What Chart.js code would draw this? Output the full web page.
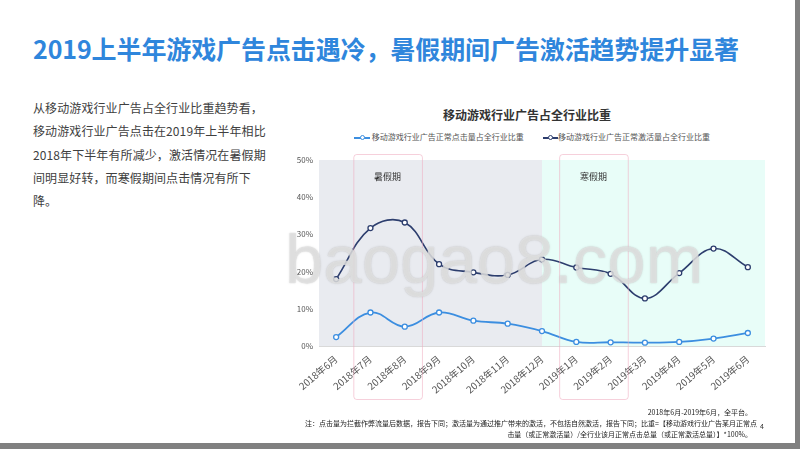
<!DOCTYPE html>
<html><head><meta charset="utf-8">
<script src="https://cdn.jsdelivr.net/npm/chart.js@4/dist/chart.umd.min.js"></script>
<style>
html,body{margin:0;padding:0;background:#fff;}
body{width:800px;height:449px;position:relative;overflow:hidden;font-family:"Noto Sans CJK SC","Noto Sans",sans-serif;}
.abs{position:absolute;}
#title{left:33px;top:31px;font-size:25px;font-weight:bold;color:#2f86dc;white-space:nowrap;line-height:34px;letter-spacing:-0.1px;}
#desc{left:33px;top:96px;font-size:12px;color:#404040;line-height:23.3px;white-space:nowrap;letter-spacing:0.1px;}
#ctitle{left:380px;width:294px;top:106px;text-align:center;font-size:12px;font-weight:bold;color:#333;line-height:18px;}
.leg{top:131px;font-size:8px;color:#555;line-height:12px;white-space:nowrap;}
.mk{display:inline-block;position:relative;vertical-align:middle;height:8px;}
.mk i{position:absolute;left:0;right:0;top:3.5px;height:1.5px;}
.mk b{position:absolute;left:50%;top:1.5px;margin-left:-2.5px;width:3px;height:3px;border-radius:50%;background:#fff;border:1.2px solid;}
#wm{left:285px;top:220px;font-family:"Liberation Sans",Arial,sans-serif;font-size:69px;color:rgba(232,232,232,0.72);text-shadow:0 0 1.5px rgba(150,150,150,0.55);white-space:nowrap;line-height:80px;pointer-events:none;}
.fn{font-size:7px;color:#222;white-space:nowrap;text-align:right;line-height:10.5px;}
#rbar{left:795px;top:0;width:5px;height:449px;background:#808080;}
#bbar{left:0;top:443px;width:800px;height:6px;background:#808080;}
</style></head><body>
<div id="title" class="abs">2019上半年游戏广告点击遇冷，暑假期间广告激活趋势提升显著</div>
<div id="desc" class="abs">从移动游戏行业广告占全行业比重趋势看，<br>移动游戏行业广告点击在2019年上半年相比<br>2018年下半年有所减少，激活情况在暑假期<br>间明显好转，而寒假期间点击情况有所下<br>降。</div>
<div id="ctitle" class="abs">移动游戏行业广告占全行业比重</div>
<div class="abs leg" style="left:354px"><span class="mk" style="width:16px"><i style="background:#3c8ee0"></i><b style="border-color:#3c8ee0"></b></span> <span id="l1"></span></div>
<div class="abs leg" style="left:543px"><span class="mk" style="width:15px"><i style="background:#2d3e6e"></i><b style="border-color:#2d3e6e"></b></span><span id="l2"></span></div>
<canvas id="c" class="abs" style="left:280px;top:100px;width:500px;height:310px"></canvas>
<div id="wm" class="abs">baogao8.com</div>
<div class="abs fn" style="right:48px;top:407px">2018年6月-2019年6月，全平台。</div>
<div class="abs fn" style="right:43px;top:418px">注：点击量为拦截作弊流量后数据，报告下同；激活量为通过推广带来的激活，不包括自然激活，报告下同；比重=【移动游戏行业广告某月正常点</div>
<div class="abs fn" style="right:48px;top:429px">击量（或正常激活量）/全行业该月正常点击总量（或正常激活总量）】*100%。</div>
<div class="abs" style="left:760px;top:421px;font-size:7px;color:#333;">4</div>
<div id="rbar" class="abs"></div>
<div id="bbar" class="abs"></div>
<script>
const categories = ["2018年6月","2018年7月","2018年8月","2018年9月","2018年10月","2018年11月","2018年12月","2019年1月","2019年2月","2019年3月","2019年4月","2019年5月","2019年6月"];
const clickShare = [2.4, 9.0, 5.2, 9.0, 6.8, 6.0, 4.0, 1.1, 1.0, 0.9, 1.1, 2.0, 3.5];
const activeShare = [18.0, 31.7, 33.2, 22.0, 19.8, 19.1, 23.3, 21.1, 19.4, 12.8, 19.6, 26.2, 21.2];
const seriesNames = ["移动游戏行业广告正常点击量占全行业比重","移动游戏行业广告正常激活量占全行业比重"];
const yTicks = [0,10,20,30,40,50];
const summerRange = ["2018年7月","2018年8月"];
const winterRange = ["2019年1月","2019年2月"];
const splitCategory = "2018年12月";

document.getElementById('l1').textContent = seriesNames[0];
document.getElementById('l2').textContent = seriesNames[1];

const bgPlugin = {
  id:'bg',
  beforeDatasetsDraw(chart){
    const {ctx, chartArea:a, scales:{x}} = chart;
    const sx = x.getPixelForValue(categories.indexOf(splitCategory));
    ctx.save();
    ctx.fillStyle = '#e9ebf0';
    ctx.fillRect(a.left, a.top, sx - a.left, a.bottom - a.top);
    ctx.fillStyle = '#e8fdf8';
    ctx.fillRect(sx, a.top, a.right - sx, a.bottom - a.top);
    ctx.restore();
  },
  afterDraw(chart){
    const {ctx, chartArea:a, scales:{x}} = chart;
    const step = x.getPixelForValue(1) - x.getPixelForValue(0);
    const boxes = [[summerRange,'暑假期'],[winterRange,'寒假期']];
    ctx.save();
    boxes.forEach(([r,label])=>{
      const x0 = x.getPixelForValue(categories.indexOf(r[0])) - step/2;
      const x1 = x.getPixelForValue(categories.indexOf(r[1])) + step/2;
      const y0 = a.top - 6, y1 = a.bottom + 53;
      ctx.strokeStyle = 'rgba(238,170,190,0.55)';
      ctx.lineWidth = 1;
      ctx.beginPath();
      if (ctx.roundRect) ctx.roundRect(x0+0.5, y0+0.5, x1-x0, y1-y0, 3); else ctx.rect(x0+0.5,y0+0.5,x1-x0,y1-y0);
      ctx.stroke();
      ctx.fillStyle = '#333';
      ctx.font = '9px "Noto Sans CJK SC"';
      ctx.textAlign = 'center';
      ctx.textBaseline = 'middle';
      ctx.fillText(label, (x0+x1)/2, a.top + 17);
    });
    ctx.restore();
  }
};

new Chart(document.getElementById('c'), {
  type:'line',
  data:{
    labels:categories,
    datasets:[
      {label:seriesNames[0], data:clickShare, borderColor:'#3c8ee0', backgroundColor:'#3c8ee0', pointBackgroundColor:'#ffffff', pointBorderColor:'#3c8ee0', pointRadius:2.5, pointBorderWidth:1.3, borderWidth:1.8, tension:0.4},
      {label:seriesNames[1], data:activeShare, borderColor:'#2d3e6e', backgroundColor:'#2d3e6e', pointBackgroundColor:'#ffffff', pointBorderColor:'#2d3e6e', pointRadius:2.5, pointBorderWidth:1.3, borderWidth:1.6, tension:0.4}
    ]
  },
  options:{
    responsive:false, animation:false, devicePixelRatio:1,
    layout:{padding:{top:60,right:15,left:0,bottom:0}},
    plugins:{legend:{display:false}, title:{display:false}, tooltip:{enabled:false}},
    scales:{
      x:{
        offset:true,
        grid:{display:false, drawTicks:false},
        border:{display:true, color:'#d9d9d9'},
        ticks:{minRotation:40, maxRotation:40, padding:7, color:'#555', font:{size:9.8, family:'"Noto Sans CJK SC"'}, autoSkip:false},
        afterFit(s){ s.height = 64; }
      },
      y:{
        min:0, max:50,
        afterBuildTicks(s){ s.ticks = yTicks.map(v=>({value:v})); },
        grid:{display:false, drawTicks:false},
        border:{display:false},
        ticks:{padding:6, color:'#555', font:{size:8, family:'"Noto Sans CJK SC"'}, callback:v=>v+'%'},
        afterFit(s){ s.width = 39; }
      }
    }
  },
  plugins:[bgPlugin]
});
</script>
</body></html>
